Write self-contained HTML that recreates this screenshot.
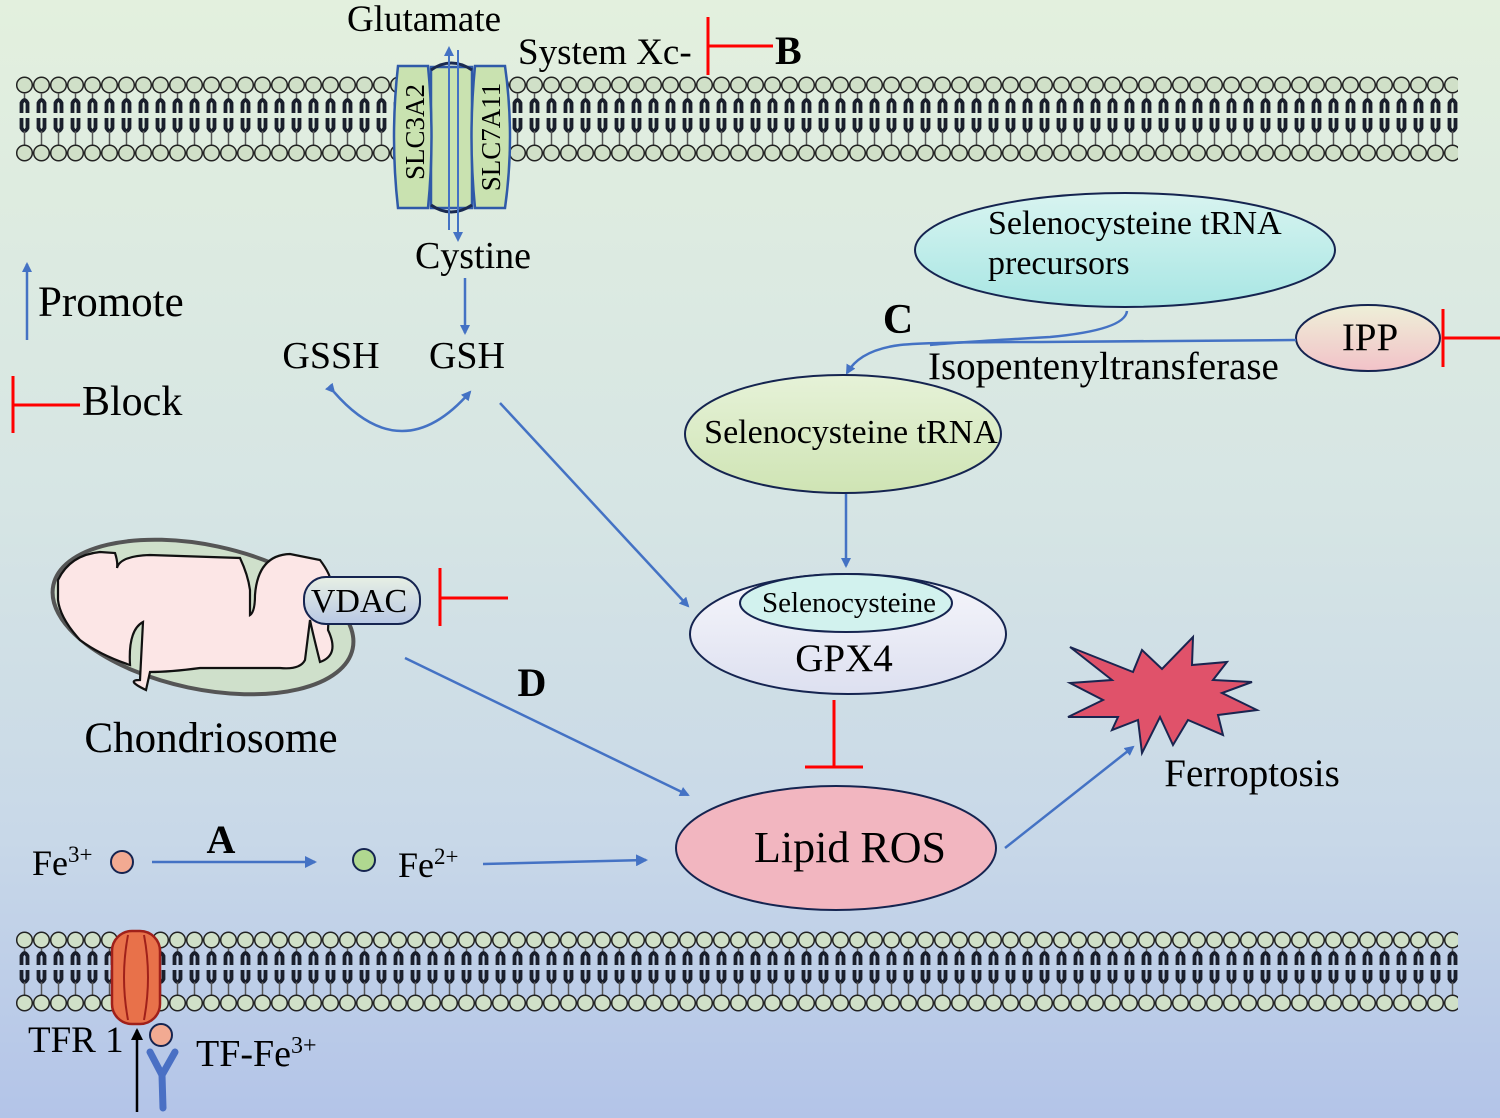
<!DOCTYPE html>
<html><head><meta charset="utf-8"><style>html,body{margin:0;padding:0}svg{display:block}text{font-family:"Liberation Serif",serif;fill:#000}</style></head><body>
<svg width="1500" height="1118" viewBox="0 0 1500 1118" xmlns="http://www.w3.org/2000/svg">
<defs>
<linearGradient id="bg" x1="0" y1="0" x2="0" y2="1">
<stop offset="0" stop-color="#e3f0de"/><stop offset="0.45" stop-color="#d6e5e4"/><stop offset="0.75" stop-color="#c8d8e8"/><stop offset="1" stop-color="#b3c4e8"/></linearGradient>
<pattern id="memT" patternUnits="userSpaceOnUse" x="16" y="76" width="17" height="88">
<circle cx="8.5" cy="9" r="7.8" fill="#d0e0c8" stroke="#222" stroke-width="1.5"/>
<line x1="8.5" y1="17" x2="8.5" y2="24" stroke="#555" stroke-width="1.5"/>
<path d="M5.5,37 V27 Q8.5,21 11.5,27 V37" fill="none" stroke="#1a1f2c" stroke-width="3.8"/>
<path d="M5.5,42 V52 Q8.5,58 11.5,52 V42" fill="none" stroke="#1a1f2c" stroke-width="3.8"/>
<line x1="8.5" y1="55" x2="8.5" y2="69" stroke="#555" stroke-width="1.5"/>
<circle cx="8.5" cy="77" r="7.8" fill="#d0e0c8" stroke="#222" stroke-width="1.5"/>
</pattern>
<pattern id="memB" patternUnits="userSpaceOnUse" x="16" y="931" width="17" height="82">
<circle cx="8.5" cy="9" r="7.8" fill="#d0e0c8" stroke="#222" stroke-width="1.5"/>
<line x1="8.5" y1="17" x2="8.5" y2="22" stroke="#555" stroke-width="1.5"/>
<path d="M5.5,34 V25 Q8.5,19 11.5,25 V34" fill="none" stroke="#1a1f2c" stroke-width="3.8"/>
<path d="M5.5,39 V48 Q8.5,54 11.5,48 V39" fill="none" stroke="#1a1f2c" stroke-width="3.8"/>
<line x1="8.5" y1="51" x2="8.5" y2="64" stroke="#555" stroke-width="1.5"/>
<circle cx="8.5" cy="72" r="7.8" fill="#d0e0c8" stroke="#222" stroke-width="1.5"/>
</pattern>
<marker id="ar" markerWidth="10" markerHeight="10" refX="8" refY="5" orient="auto" markerUnits="userSpaceOnUse"><path d="M0,0 L10,5 L0,10 Z" fill="#4472c4"/></marker>
<marker id="arb" markerWidth="12" markerHeight="12" refX="10" refY="6" orient="auto" markerUnits="userSpaceOnUse"><path d="M0,0 L12,6 L0,12 Z" fill="#4472c4"/></marker>
<marker id="ark" markerWidth="12" markerHeight="12" refX="10" refY="6" orient="auto" markerUnits="userSpaceOnUse"><path d="M0,0 L12,6 L0,12 Z" fill="#000"/></marker>
<linearGradient id="gPre" x1="0" y1="0" x2="0" y2="1"><stop offset="0" stop-color="#d8f4f0"/><stop offset="1" stop-color="#a8e6e4"/></linearGradient>
<linearGradient id="gSel" x1="0" y1="0" x2="0" y2="1"><stop offset="0" stop-color="#e6f2d8"/><stop offset="1" stop-color="#cfe4b4"/></linearGradient>
<linearGradient id="gGpx" x1="0" y1="0" x2="0" y2="1"><stop offset="0" stop-color="#f6f6fb"/><stop offset="1" stop-color="#dde0f0"/></linearGradient>
<linearGradient id="gIpp" x1="0" y1="0" x2="0" y2="1"><stop offset="0" stop-color="#eef0d8"/><stop offset="1" stop-color="#f2c2c8"/></linearGradient>
<linearGradient id="gVd" x1="0" y1="0" x2="0" y2="1"><stop offset="0" stop-color="#e8f0e4"/><stop offset="1" stop-color="#b8c8e4"/></linearGradient>
</defs>
<rect width="1500" height="1118" fill="url(#bg)"/>
<rect x="16" y="76" width="1442" height="88" fill="url(#memT)"/>
<rect x="16" y="931" width="1442" height="82" fill="url(#memB)"/>

<rect x="431" y="67" width="41" height="141" fill="#c9e2b0" stroke="#2f5aa8" stroke-width="2.5"/>
<path d="M431,70 Q451,56 472,70" fill="none" stroke="#1a2a50" stroke-width="3"/>
<path d="M431,205 Q451,219 472,205" fill="none" stroke="#1a2a50" stroke-width="3"/>
<path d="M398,66 H428 Q435,137 428,208 H398 Q390,137 398,66 Z" fill="#c9e2b0" stroke="#2f5aa8" stroke-width="2.5"/>
<path d="M475,66 H505 Q515,137 505,208 H475 Q468,137 475,66 Z" fill="#c9e2b0" stroke="#2f5aa8" stroke-width="2.5"/>
<text transform="translate(424,132) rotate(-90)" font-size="27" text-anchor="middle">SLC3A2</text>
<text transform="translate(500,137) rotate(-90)" font-size="27" text-anchor="middle">SLC7A11</text>
<line x1="449" y1="230" x2="449" y2="48" stroke="#4472c4" stroke-width="2" marker-end="url(#ar)"/>
<line x1="458" y1="50" x2="458" y2="240" stroke="#4472c4" stroke-width="2" marker-end="url(#ar)"/>
<text x="424" y="31" font-size="37" text-anchor="middle">Glutamate</text>
<text x="518" y="64" font-size="37">System Xc-</text>
<line x1="708" y1="17" x2="708" y2="75" stroke="#f00" stroke-width="3"/>
<line x1="708" y1="46" x2="773" y2="46" stroke="#f00" stroke-width="3"/>
<text x="775" y="64" font-size="40" font-weight="bold">B</text>

<text x="473" y="268" font-size="38" text-anchor="middle">Cystine</text>
<line x1="465" y1="278" x2="465" y2="333" stroke="#4472c4" stroke-width="2.5" marker-end="url(#ar)"/>
<text x="331" y="368" font-size="38" text-anchor="middle">GSSH</text>
<text x="467" y="368" font-size="38" text-anchor="middle">GSH</text>
<path d="M334,392 Q402,470 470,392" fill="none" stroke="#4472c4" stroke-width="2.5" marker-start="url(#ar)" marker-end="url(#ar)"/>
<line x1="500" y1="403" x2="688" y2="606" stroke="#4472c4" stroke-width="2.5" marker-end="url(#ar)"/>

<line x1="27" y1="340" x2="27" y2="264" stroke="#4472c4" stroke-width="2.5" marker-end="url(#ar)"/>
<text x="38" y="316" font-size="43">Promote</text>
<line x1="13" y1="376" x2="13" y2="433" stroke="#f00" stroke-width="3"/>
<line x1="13" y1="405" x2="80" y2="405" stroke="#f00" stroke-width="3"/>
<text x="82" y="415" font-size="42">Block</text>

<ellipse cx="1125" cy="250" rx="210" ry="57" fill="url(#gPre)" stroke="#152450" stroke-width="2"/>
<text x="988" y="234" font-size="34">Selenocysteine tRNA</text>
<text x="988" y="274" font-size="34">precursors</text>
<ellipse cx="1368" cy="338" rx="72" ry="33" fill="url(#gIpp)" stroke="#152450" stroke-width="2"/>
<text x="1370" y="350" font-size="39" text-anchor="middle">IPP</text>
<line x1="1443" y1="309" x2="1443" y2="367" stroke="#f00" stroke-width="3"/>
<line x1="1443" y1="338" x2="1500" y2="338" stroke="#f00" stroke-width="3"/>
<path d="M1296,340 L1040,342 Q930,342 900,345 Q860,350 847,373" fill="none" stroke="#4472c4" stroke-width="2.5" marker-end="url(#ar)"/>
<path d="M1127,311 Q1125,330 1050,337 Q960,342 930,345" fill="none" stroke="#4472c4" stroke-width="2.5"/>
<text x="898" y="333" font-size="42" font-weight="bold" text-anchor="middle">C</text>
<text x="928" y="379" font-size="39">Isopentenyltransferase</text>
<ellipse cx="843" cy="434" rx="158" ry="59" fill="url(#gSel)" stroke="#152450" stroke-width="2"/>
<text x="851" y="443" font-size="34" text-anchor="middle">Selenocysteine tRNA</text>
<line x1="846" y1="494" x2="846" y2="566" stroke="#4472c4" stroke-width="2.5" marker-end="url(#ar)"/>

<ellipse cx="848" cy="634" rx="158" ry="60" fill="url(#gGpx)" stroke="#152450" stroke-width="2"/>
<ellipse cx="846" cy="603" rx="106" ry="29" fill="#d2f2ee" stroke="#152450" stroke-width="2"/>
<text x="849" y="612" font-size="29" text-anchor="middle">Selenocysteine</text>
<text x="844" y="671" font-size="39" text-anchor="middle">GPX4</text>
<line x1="834" y1="700" x2="834" y2="767" stroke="#f00" stroke-width="3"/>
<line x1="805" y1="767" x2="863" y2="767" stroke="#f00" stroke-width="3"/>

<ellipse cx="836" cy="848" rx="160" ry="62" fill="#f2b6c0" stroke="#152450" stroke-width="2"/>
<text x="850" y="862" font-size="44" text-anchor="middle">Lipid ROS</text>
<line x1="1005" y1="848" x2="1133" y2="747" stroke="#4472c4" stroke-width="2.5" marker-end="url(#ar)"/>
<polygon points="1070,647 1133,672 1142,650 1162,669 1193,637 1192,665 1227,662 1213,680 1252,682 1222,693 1257,710 1218,715 1223,735 1188,720 1173,745 1160,717 1142,753 1138,720 1112,730 1118,717 1068,717 1103,700 1070,683 1112,680" fill="#e0526a" stroke="#1a2550" stroke-width="2" stroke-linejoin="miter"/>
<text x="1252" y="786" font-size="39" text-anchor="middle">Ferroptosis</text>

<ellipse cx="203" cy="617" rx="153" ry="72" transform="rotate(12 203 617)" fill="#cfe0cb" stroke="#555" stroke-width="4"/>
<path d="M58,580 Q70,555 100,552 L115,553 Q118,562 117,568 Q120,556 150,555 L240,558 Q248,575 250,590 L250,615 Q255,612 255,595 Q258,555 290,554 L320,560 Q335,580 330,590 L328,630 Q340,655 320,662 Q312,630 310,620 L305,660 Q300,670 280,668 L200,668 Q170,672 150,672 L146,690 Q125,680 140,680 L143,622 Q128,630 130,665 Q100,655 80,640 Q60,618 58,600 Z" fill="#fce6e6" stroke="#111" stroke-width="2.2"/>
<rect x="304" y="577" width="116" height="47" rx="22" fill="url(#gVd)" stroke="#152450" stroke-width="2"/>
<text x="359" y="612" font-size="34" text-anchor="middle">VDAC</text>
<line x1="440" y1="568" x2="440" y2="626" stroke="#f00" stroke-width="3"/>
<line x1="440" y1="598" x2="508" y2="598" stroke="#f00" stroke-width="3"/>
<text x="211" y="752" font-size="43" text-anchor="middle">Chondriosome</text>
<line x1="405" y1="658" x2="688" y2="795" stroke="#4472c4" stroke-width="2.5" marker-end="url(#ar)"/>
<text x="532" y="696" font-size="40" font-weight="bold" text-anchor="middle">D</text>

<text x="32" y="875" font-size="36">Fe<tspan font-size="23" dy="-13">3+</tspan></text>
<circle cx="122" cy="862" r="11" fill="#f2aa92" stroke="#152450" stroke-width="2"/>
<text x="221" y="853" font-size="40" font-weight="bold" text-anchor="middle">A</text>
<line x1="152" y1="862" x2="315" y2="862" stroke="#4472c4" stroke-width="2.5" marker-end="url(#arb)"/>
<circle cx="364" cy="860" r="11" fill="#b0d890" stroke="#152450" stroke-width="2"/>
<text x="398" y="877" font-size="36">Fe<tspan font-size="23" dy="-13">2+</tspan></text>
<line x1="483" y1="864" x2="646" y2="860" stroke="#4472c4" stroke-width="2.5" marker-end="url(#arb)"/>

<rect x="112" y="931" width="48" height="93" rx="20" fill="#e8714a" stroke="#a0201a" stroke-width="2.5"/>
<path d="M128,935 Q120,977 128,1020 M144,935 Q152,977 144,1020" fill="none" stroke="#a0201a" stroke-width="2"/>
<text x="28" y="1052" font-size="37">TFR 1</text>
<line x1="137" y1="1112" x2="137" y2="1030" stroke="#000" stroke-width="2.5" marker-end="url(#ark)"/>
<circle cx="161" cy="1035" r="11" fill="#f2aa92" stroke="#152450" stroke-width="2"/>
<path d="M150,1052 L162,1075 L175,1052 M162,1075 L163,1108" fill="none" stroke="#4a70c4" stroke-width="7" stroke-linecap="round" stroke-linejoin="round"/>
<text x="196" y="1066" font-size="38">TF-Fe<tspan font-size="24" dy="-13">3+</tspan></text>
</svg>
</body></html>
